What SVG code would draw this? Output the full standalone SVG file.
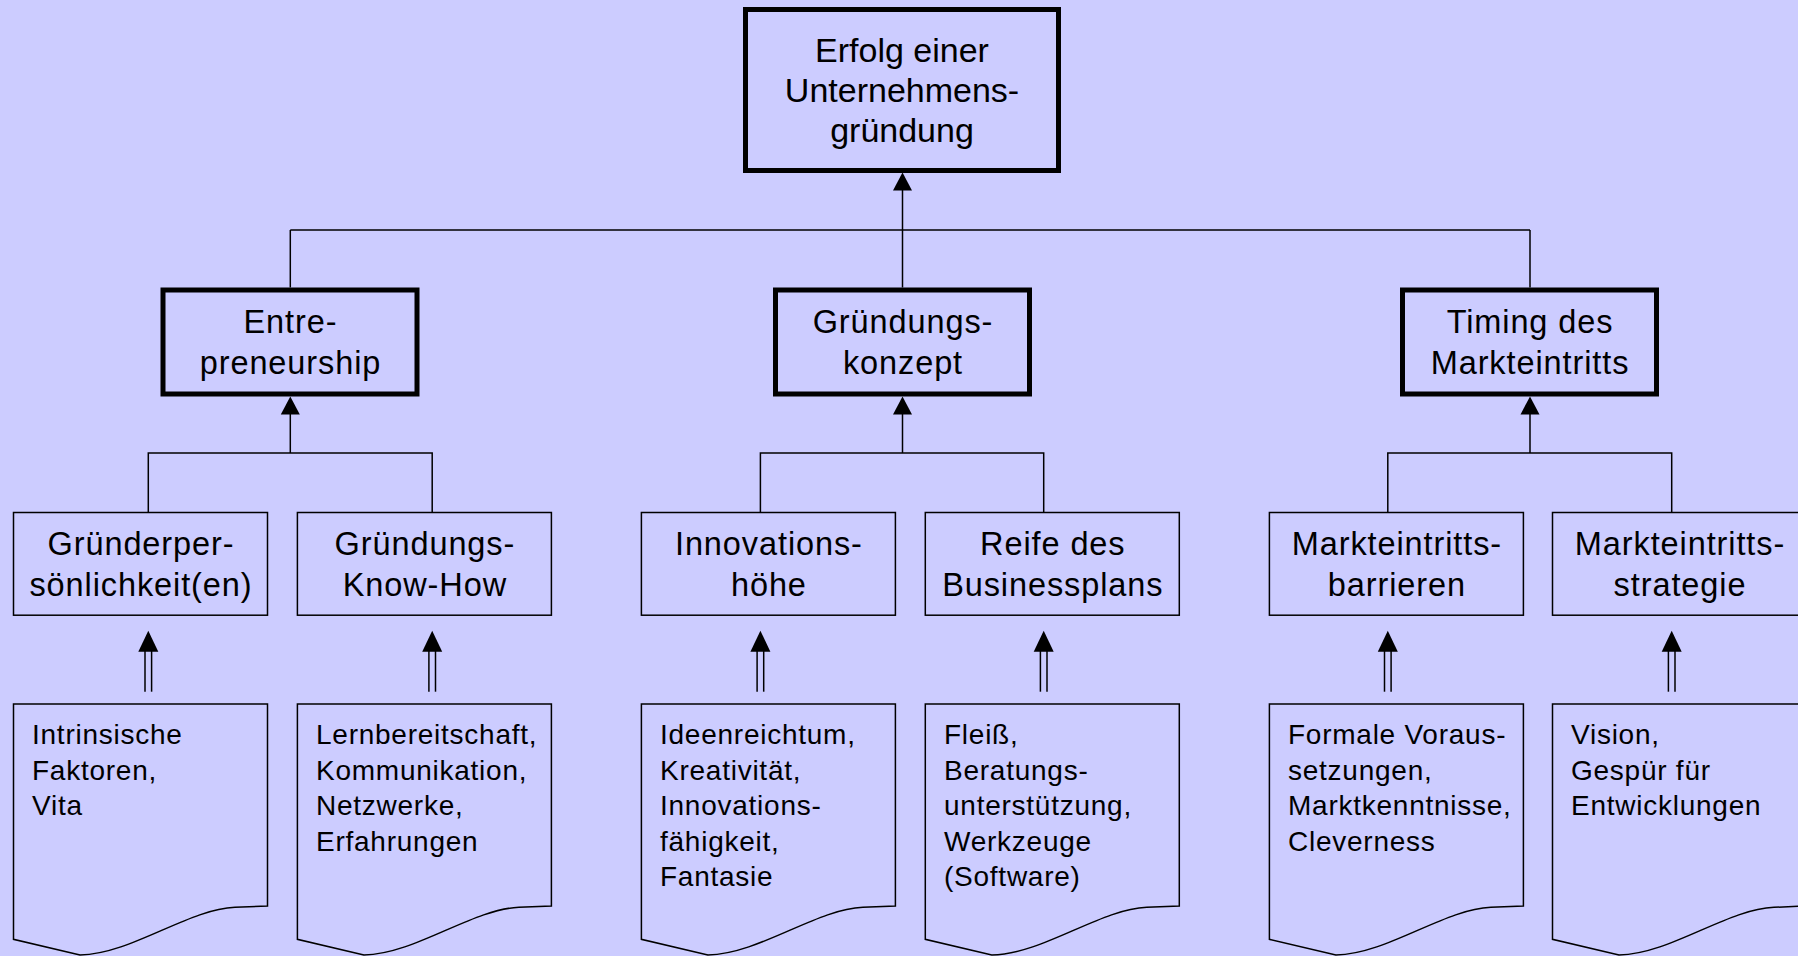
<svg xmlns="http://www.w3.org/2000/svg" xmlns:xlink="http://www.w3.org/1999/xlink" width="1798" height="956" viewBox="0 0 1798 956">
<style>
.bg{fill:#ccccff}
.thick{fill:#ccccff;stroke:#000;stroke-width:5}
.thin{fill:#ccccff;stroke:#000;stroke-width:1.5}
.ln{fill:none;stroke:#000;stroke-width:1.5}
.hd{fill:#000;stroke:none}
text{font-family:"Liberation Sans",Arial,Helvetica,sans-serif;fill:#000}
.t1{font-size:34px;text-anchor:middle}
.t2{font-size:32.5px;text-anchor:middle;letter-spacing:0.9px}
.t3{font-size:28px;letter-spacing:0.75px}
</style>
<defs>
<path id="ah" class="hd" d="M0,0 L-9.5,18 L9.5,18 Z"/>
<g id="dbl">
<path class="hd" d="M0,0 L-10,21 L10,21 Z"/>
<line class="ln" x1="-3.3" y1="20" x2="-3.3" y2="61"/>
<line class="ln" x1="3.3" y1="20" x2="3.3" y2="61"/>
</g>
<path id="doc" class="thin" d="M0,0 H254 V202 L221.5,203.3 C175,205 118,250 66.5,251 L0,235.3 Z"/>
</defs>
<rect class="bg" x="0" y="0" width="1798" height="956"/>

<g id="connectors">
<line class="ln" x1="902.5" y1="287.5" x2="902.5" y2="190"/>
<use xlink:href="#ah" href="#ah" x="902.5" y="172.5"/>
<line class="ln" x1="290.3" y1="230" x2="1530" y2="230"/>
<line class="ln" x1="290.3" y1="230" x2="290.3" y2="287.5"/>
<line class="ln" x1="1530" y1="230" x2="1530" y2="287.5"/>

<line class="ln" x1="290.3" y1="453" x2="290.3" y2="414"/>
<use xlink:href="#ah" href="#ah" x="290.3" y="396.5"/>
<line class="ln" x1="902.5" y1="453" x2="902.5" y2="414"/>
<use xlink:href="#ah" href="#ah" x="902.5" y="396.5"/>
<line class="ln" x1="1530" y1="453" x2="1530" y2="414"/>
<use xlink:href="#ah" href="#ah" x="1530" y="396.5"/>

<path class="ln" d="M148.3,512.5 V453 H432.2 V512.5"/>
<path class="ln" d="M760.4,512.5 V453 H1043.7 V512.5"/>
<path class="ln" d="M1387.8,512.5 V453 H1671.7 V512.5"/>

<use xlink:href="#dbl" href="#dbl" x="148.3" y="630.7"/>
<use xlink:href="#dbl" href="#dbl" x="432.2" y="630.7"/>
<use xlink:href="#dbl" href="#dbl" x="760.4" y="630.7"/>
<use xlink:href="#dbl" href="#dbl" x="1043.7" y="630.7"/>
<use xlink:href="#dbl" href="#dbl" x="1387.8" y="630.7"/>
<use xlink:href="#dbl" href="#dbl" x="1671.7" y="630.7"/>
</g>

<g id="erfolg">
<rect class="thick" x="745.5" y="9.5" width="313" height="161"/>
<text class="t1" x="902" y="62">Erfolg einer</text>
<text class="t1" x="902" y="102">Unternehmens-</text>
<text class="t1" x="902" y="142">gründung</text>
</g>

<g id="entrepreneurship">
<rect class="thick" x="163" y="290" width="254" height="104"/>
<text class="t2" x="290.5" y="333.3">Entre-</text>
<text class="t2" x="290.5" y="373.8">preneurship</text>
</g>
<g id="gruendungskonzept">
<rect class="thick" x="775.5" y="290" width="254" height="104"/>
<text class="t2" x="903" y="333.3">Gründungs-</text>
<text class="t2" x="903" y="373.8">konzept</text>
</g>
<g id="timing">
<rect class="thick" x="1402.5" y="290" width="254" height="104"/>
<text class="t2" x="1530" y="333.3">Timing des</text>
<text class="t2" x="1530" y="373.8">Markteintritts</text>
</g>

<g id="gruenderpersoenlichkeit">
<rect class="thin" x="13.5" y="512.5" width="254" height="102.7"/>
<text class="t2" x="141" y="555.1">Gründerper-</text>
<text class="t2" x="141" y="595.6">sönlichkeit(en)</text>
</g>
<g id="knowhow">
<rect class="thin" x="297.4" y="512.5" width="254" height="102.7"/>
<text class="t2" x="424.9" y="555.1">Gründungs-</text>
<text class="t2" x="424.9" y="595.6">Know-How</text>
</g>
<g id="innovationshoehe">
<rect class="thin" x="641.4" y="512.5" width="254" height="102.7"/>
<text class="t2" x="768.9" y="555.1">Innovations-</text>
<text class="t2" x="768.9" y="595.6">höhe</text>
</g>
<g id="businessplan">
<rect class="thin" x="925.3" y="512.5" width="254" height="102.7"/>
<text class="t2" x="1052.8" y="555.1">Reife des</text>
<text class="t2" x="1052.8" y="595.6">Businessplans</text>
</g>
<g id="barrieren">
<rect class="thin" x="1269.4" y="512.5" width="254" height="102.7"/>
<text class="t2" x="1396.9" y="555.1">Markteintritts-</text>
<text class="t2" x="1396.9" y="595.6">barrieren</text>
</g>
<g id="strategie">
<rect class="thin" x="1552.5" y="512.5" width="254" height="102.7"/>
<text class="t2" x="1680" y="555.1">Markteintritts-</text>
<text class="t2" x="1680" y="595.6">strategie</text>
</g>

<g id="doc1">
<use xlink:href="#doc" href="#doc" x="13.5" y="704"/>
<text class="t3" x="32" y="744"><tspan x="32">Intrinsische</tspan><tspan x="32" dy="35.5">Faktoren,</tspan><tspan x="32" dy="35.5">Vita</tspan></text>
</g>
<g id="doc2">
<use xlink:href="#doc" href="#doc" x="297.4" y="704"/>
<text class="t3" x="316" y="744"><tspan x="316">Lernbereitschaft,</tspan><tspan x="316" dy="35.5">Kommunikation,</tspan><tspan x="316" dy="35.5">Netzwerke,</tspan><tspan x="316" dy="35.5">Erfahrungen</tspan></text>
</g>
<g id="doc3">
<use xlink:href="#doc" href="#doc" x="641.4" y="704"/>
<text class="t3" x="660" y="744"><tspan x="660">Ideenreichtum,</tspan><tspan x="660" dy="35.5">Kreativität,</tspan><tspan x="660" dy="35.5">Innovations-</tspan><tspan x="660" dy="35.5">fähigkeit,</tspan><tspan x="660" dy="35.5">Fantasie</tspan></text>
</g>
<g id="doc4">
<use xlink:href="#doc" href="#doc" x="925.3" y="704"/>
<text class="t3" x="944" y="744"><tspan x="944">Fleiß,</tspan><tspan x="944" dy="35.5">Beratungs-</tspan><tspan x="944" dy="35.5">unterstützung,</tspan><tspan x="944" dy="35.5">Werkzeuge</tspan><tspan x="944" dy="35.5">(Software)</tspan></text>
</g>
<g id="doc5">
<use xlink:href="#doc" href="#doc" x="1269.4" y="704"/>
<text class="t3" x="1288" y="744"><tspan x="1288">Formale Voraus-</tspan><tspan x="1288" dy="35.5">setzungen,</tspan><tspan x="1288" dy="35.5">Marktkenntnisse,</tspan><tspan x="1288" dy="35.5">Cleverness</tspan></text>
</g>
<g id="doc6">
<use xlink:href="#doc" href="#doc" x="1552.5" y="704"/>
<text class="t3" x="1571" y="744"><tspan x="1571">Vision,</tspan><tspan x="1571" dy="35.5">Gespür für</tspan><tspan x="1571" dy="35.5">Entwicklungen</tspan></text>
</g>
</svg>
